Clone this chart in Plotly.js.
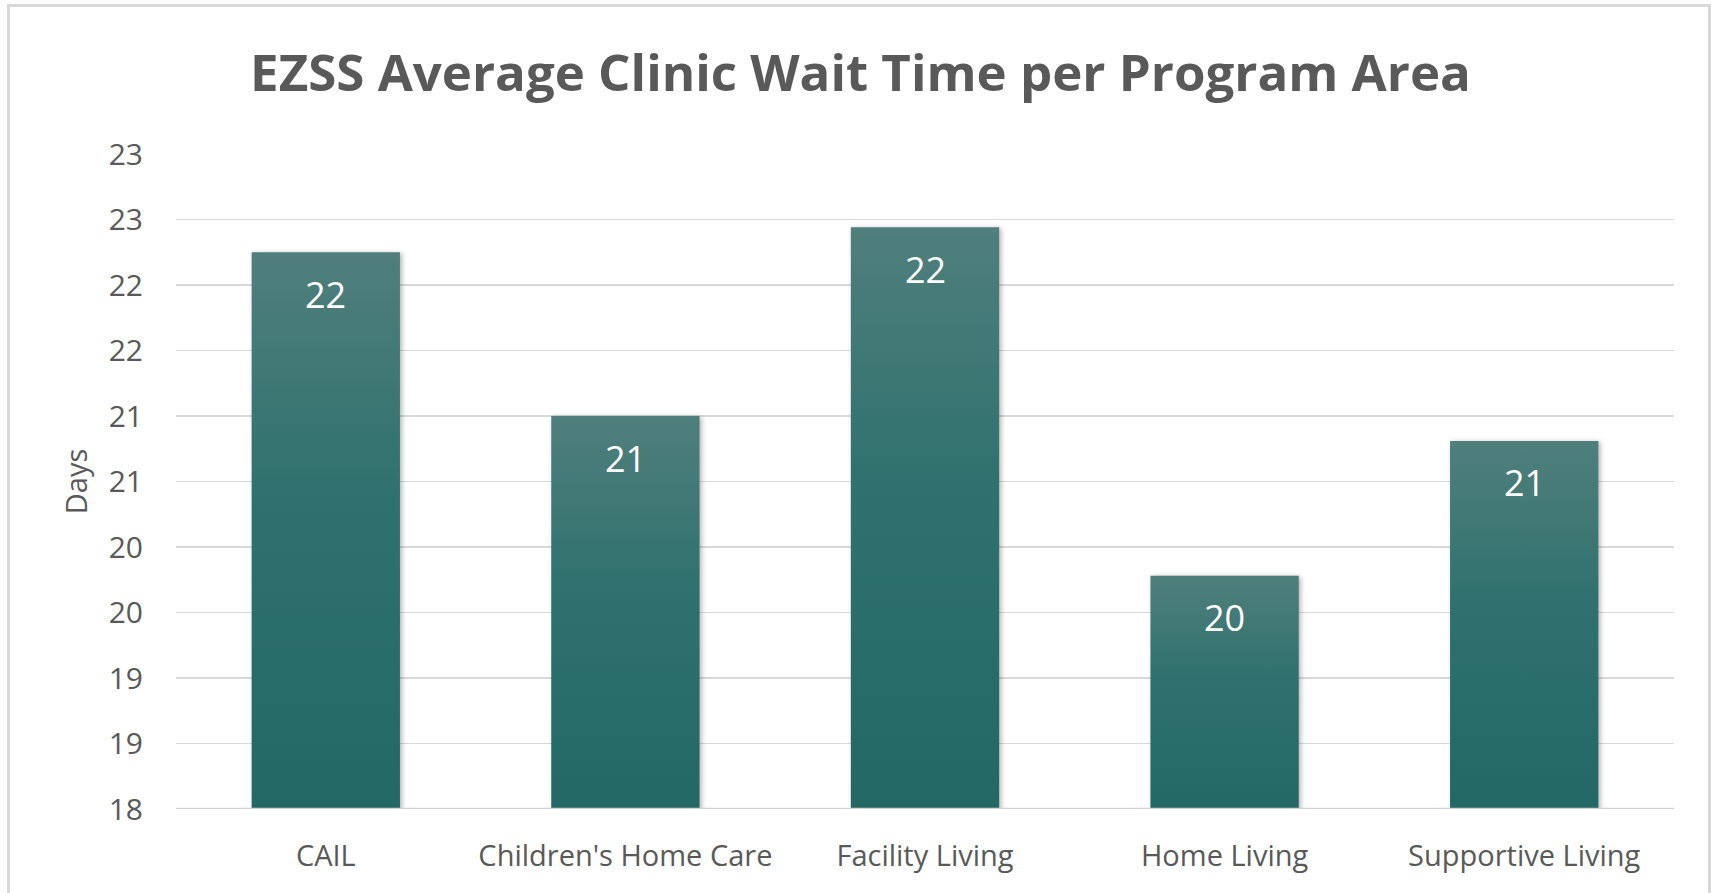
<!DOCTYPE html>
<html>
<head>
<meta charset="utf-8">
<script src="https://cdn.plot.ly/plotly-3.0.1.min.js"></script>
<style>
  html, body { margin: 0; padding: 0; background: #ffffff; }
  #wrap { position: relative; width: 1721px; height: 893px; overflow: hidden; }
  #chart { width: 1721px; height: 893px; }
  #frame { position: absolute; left: 7px; top: 4px; width: 1704px; height: 920px;
           border: 3px solid #d9d9d9; box-sizing: border-box; pointer-events: none; }
</style>
</head>
<body>
<div id="wrap">
  <div id="chart"></div>
  <div id="frame"></div>
</div>
<script>
// ---- data ----
const categories = ["CAIL", "Children's Home Care", "Facility Living", "Home Living", "Supportive Living"];
const waitDays = [22.25, 21.0, 22.44, 19.78, 20.81];
const tickVals = [18, 18.5, 19, 19.5, 20, 20.5, 21, 21.5, 22, 22.5, 23];
const tickLabels = ["18", "19", "19", "20", "20", "21", "21", "22", "22", "23", "23"];
const chartTitle = "EZSS Average Clinic Wait Time per Program Area";
const yTitle = "Days";

const FONT = "'Open Sans', 'Segoe UI', sans-serif";
const GREY = "#595959";

const trace = {
  type: "bar",
  x: categories,
  y: waitDays,
  marker: { color: "#2b6f6c", line: { width: 0 } },
  hoverinfo: "x+y"
};

const annotations = categories.map((c, i) => ({
  x: c, y: waitDays[i], xref: "x", yref: "y",
  text: String(Math.round(waitDays[i])),
  showarrow: false, yanchor: "middle", yshift: -42,
  font: { family: FONT, size: 36, color: "#ffffff" }
}));

const layout = {
  width: 1721, height: 893,
  paper_bgcolor: "#ffffff", plot_bgcolor: "#ffffff",
  margin: { l: 176, r: 47, t: 154, b: 84, pad: 0 },
  bargap: 0.505,
  showlegend: false,
  title: {
    text: "<b>" + chartTitle + "</b>",
    x: 0.5, xref: "container", xanchor: "center",
    y: 1 - 73 / 893, yref: "container", yanchor: "middle",
    font: { family: FONT, size: 51, color: GREY }
  },
  xaxis: {
    type: "category",
    showgrid: false, zeroline: false, showline: false,
    ticks: "", ticklabelstandoff: 27,
    tickfont: { family: FONT, size: 29, color: GREY }
  },
  yaxis: {
    range: [18, 23], autorange: false,
    tickmode: "array", tickvals: tickVals, ticktext: tickLabels,
    showgrid: true, gridcolor: "#d9d9d9", gridwidth: 1.5,
    zeroline: false, showline: false, ticks: "",
    ticklabelstandoff: 32,
    tickfont: { family: FONT, size: 30, color: GREY },
    title: { text: yTitle, standoff: 12, font: { family: FONT, size: 29, color: GREY } }
  },
  shapes: [{
    type: "line", xref: "paper", yref: "y", x0: 0, x1: 1, y0: 18, y1: 18,
    line: { color: "#d0d0d0", width: 2.5 }, layer: "above"
  }],
  annotations: annotations
};

function styleBars(gd) {
  const svg = gd.querySelector("svg.main-svg");
  const ns = "http://www.w3.org/2000/svg";
  let defs = svg.querySelector("defs");
  if (!defs) { defs = document.createElementNS(ns, "defs"); svg.insertBefore(defs, svg.firstChild); }
  defs.querySelectorAll(".ezss-def").forEach(n => n.remove());
  const ya = gd._fullLayout.yaxis;
  const yBottom = ya._length;

  const filt = document.createElementNS(ns, "filter");
  filt.setAttribute("id", "ezssShadow");
  filt.setAttribute("class", "ezss-def");
  filt.setAttribute("filterUnits", "userSpaceOnUse");
  filt.setAttribute("x", "-50"); filt.setAttribute("y", "-50");
  filt.setAttribute("width", String(gd._fullLayout.xaxis._length + 100));
  filt.setAttribute("height", String(yBottom + 100));
  filt.setAttribute("color-interpolation-filters", "sRGB");
  const ds = document.createElementNS(ns, "feDropShadow");
  ds.setAttribute("dx", "2"); ds.setAttribute("dy", "1");
  ds.setAttribute("stdDeviation", "2.5");
  ds.setAttribute("flood-color", "#000000"); ds.setAttribute("flood-opacity", "0.3");
  filt.appendChild(ds);
  defs.appendChild(filt);

  gd.querySelectorAll(".trace.bars .point path").forEach((p, i) => {
    const top = p.getBBox().y;
    const id = "ezssBarGrad" + i;
    const grad = document.createElementNS(ns, "linearGradient");
    grad.setAttribute("id", id);
    grad.setAttribute("class", "ezss-def");
    grad.setAttribute("gradientUnits", "userSpaceOnUse");
    grad.setAttribute("x1", "0"); grad.setAttribute("y1", String(top));
    grad.setAttribute("x2", "0"); grad.setAttribute("y2", String(yBottom));
    [["0%", "#507f7c"], ["45%", "#2e716e"], ["100%", "#246865"]].forEach(([o, c]) => {
      const s = document.createElementNS(ns, "stop");
      s.setAttribute("offset", o); s.setAttribute("stop-color", c);
      grad.appendChild(s);
    });
    defs.appendChild(grad);
    p.style.fill = "url(#" + id + ")";
    p.setAttribute("filter", "url(#ezssShadow)");
  });
}

Plotly.newPlot("chart", [trace], layout, { displayModeBar: false, staticPlot: true }).then(gd => {
  styleBars(gd);
});
</script>
</body>
</html>
